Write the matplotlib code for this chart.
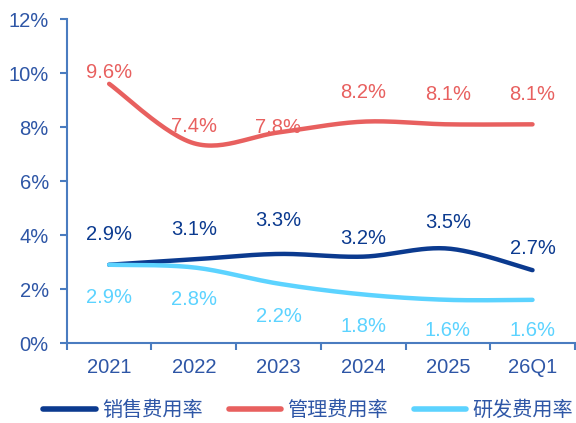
import numpy as np
import matplotlib
matplotlib.use("Agg")
import matplotlib.pyplot as plt
from matplotlib.ticker import FuncFormatter

plt.rcParams['font.family'] = ['Liberation Sans', 'Noto Sans CJK SC', 'DejaVu Sans']

# data
years = ["2021", "2022", "2023", "2024", "2025", "26Q1"]
sales_rate = [2.9, 3.1, 3.3, 3.2, 3.5, 2.7]
admin_rate = [9.6, 7.4, 7.8, 8.2, 8.1, 8.1]
rd_rate = [2.9, 2.8, 2.2, 1.8, 1.6, 1.6]
series_names = ["销售费用率", "管理费用率", "研发费用率"]

# label offsets in pixels (how the labels sit in the original)
sales_off = [30, 30, 33, 18, 26, 22]
admin_off = [11, 17, 5, 29, 30, 30]
rd_off = [-33, -32, -33, -32, -31, -31]

c_sales = "#0B3A8F"
c_admin = "#E8605F"
c_rd = "#5CD3FF"
c_text = "#2E56A6"
c_axis = "#4A7CC0"


def smooth(x, y, n=30):
    # Excel-like smooth line (Catmull-Rom as cubic Bezier)
    x = np.asarray(x, float)
    y = np.asarray(y, float)
    px = np.concatenate([[x[0]], x, [x[-1]]])
    py = np.concatenate([[y[0]], y, [y[-1]]])
    xs, ys = [], []
    t = np.linspace(0, 1, n)
    for i in range(1, len(px) - 2):
        p0 = np.array([px[i], py[i]])
        p3 = np.array([px[i + 1], py[i + 1]])
        c1 = p0 + (np.array([px[i + 1], py[i + 1]]) - np.array([px[i - 1], py[i - 1]])) / 6
        c2 = p3 - (np.array([px[i + 2], py[i + 2]]) - np.array([px[i], py[i]])) / 6
        b = ((1 - t) ** 3)[:, None] * p0 + (3 * (1 - t) ** 2 * t)[:, None] * c1 \
            + (3 * (1 - t) * t ** 2)[:, None] * c2 + (t ** 3)[:, None] * p3
        xs.extend(b[:, 0])
        ys.extend(b[:, 1])
    return np.array(xs), np.array(ys)


fig = plt.figure(figsize=(5.76, 4.23), dpi=100)
ax = fig.add_axes([0.116, 0.189, 0.882, 0.766])

x = np.arange(len(years))
for vals, col, name in [(sales_rate, c_sales, series_names[0]),
                        (admin_rate, c_admin, series_names[1]),
                        (rd_rate, c_rd, series_names[2])]:
    sx, sy = smooth(x, vals)
    ax.plot(sx, sy, color=col, lw=3.2, solid_capstyle='round', label=name)

for vals, col, offs in [(sales_rate, c_sales, sales_off),
                        (admin_rate, c_admin, admin_off),
                        (rd_rate, c_rd, rd_off)]:
    for xi, v, o in zip(x, vals, offs):
        ax.annotate(f"{v:.1f}%", (xi, v), xytext=(0, o), textcoords='offset pixels',
                    ha='center', va='center', color=col, fontsize=14.5)

ax.set_xlim(-0.5, len(years) - 0.5)
ax.set_ylim(0, 12)
ax.set_yticks(np.arange(0, 13, 2))
ax.yaxis.set_major_formatter(FuncFormatter(lambda v, p: f"{v:.0f}%"))
ax.set_xticks(x)
ax.set_xticklabels(years)
ax.set_xticks(np.arange(-0.5, len(years), 1), minor=True)

for s in ['top', 'right']:
    ax.spines[s].set_visible(False)
for s in ['left', 'bottom']:
    ax.spines[s].set_color(c_axis)
    ax.spines[s].set_linewidth(1.5)

ax.tick_params(axis='y', colors=c_axis, labelcolor=c_text, labelsize=14.5, length=5, width=1.5, pad=8)
ax.tick_params(axis='x', which='major', length=0, labelcolor=c_text, labelsize=14.5, pad=11)
ax.tick_params(axis='x', which='minor', colors=c_axis, length=5, width=1.5)

leg = fig.legend(loc='lower center', bbox_to_anchor=(0.535, -0.035), ncol=3, frameon=False,
                 fontsize=14.5, handlelength=2.6, columnspacing=1.3, handletextpad=0.3)
for t in leg.get_texts():
    t.set_color(c_text)
for h in leg.get_lines():
    h.set_linewidth(4)

fig.savefig("out.png", dpi=100)
